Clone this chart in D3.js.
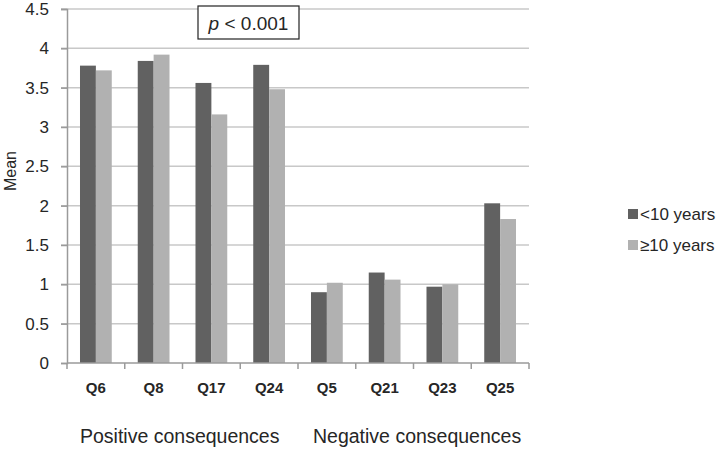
<!DOCTYPE html>
<html>
<head>
<meta charset="utf-8">
<script src="https://cdn.jsdelivr.net/npm/d3@7"></script>
<style>
  body { margin: 0; background: #fff; }
  text { font-family: "Liberation Sans", Arial, sans-serif; fill: #262626; }
</style>
</head>
<body>
<div id="chart"></div>
<script>
// data
const questions = ['Q6', 'Q8', 'Q17', 'Q24', 'Q5', 'Q21', 'Q23', 'Q25'];
const under10 = [3.78, 3.84, 3.56, 3.79, 0.90, 1.15, 0.97, 2.03];
const over10 = [3.72, 3.92, 3.16, 3.48, 1.02, 1.06, 1.00, 1.83];
const seriesNames = ['<10 years', '\u226510 years'];
const yTicks = [0, 0.5, 1, 1.5, 2, 2.5, 3, 3.5, 4, 4.5];
const groupLabels = ['Positive consequences', 'Negative consequences'];

const width = 727, height = 450;
const margin = {left: 67, top: 9, right: 198, bottom: 87};
const colors = ['#616161', '#b1b1b1'];

const svg = d3.select('#chart').append('svg')
    .attr('width', width)
    .attr('height', height);

const x = d3.scaleBand()
    .domain(questions)
    .range([margin.left, width - margin.right])
    .paddingInner(0.45)
    .paddingOuter(0.225);

const x1 = d3.scaleBand()
    .domain([0, 1])
    .range([0, x.bandwidth()]);

const y = d3.scaleLinear()
    .domain([0, 4.5])
    .range([height - margin.bottom, margin.top]);

// gridlines
svg.append('g')
    .selectAll('line')
    .data(yTicks.filter(d => d > 0))
    .enter().append('line')
    .attr('x1', margin.left - 6)
    .attr('x2', width - margin.right)
    .attr('y1', d => y(d))
    .attr('y2', d => y(d))
    .attr('stroke', '#c8c8c8')
    .attr('stroke-width', 1.5);

// y axis
const yAxis = svg.append('g')
    .attr('transform', `translate(${margin.left},0)`)
    .call(d3.axisLeft(y).tickValues(yTicks).tickSize(6).tickPadding(12).tickFormat(d => d));
yAxis.select('.domain').attr('stroke', '#9a9a9a').attr('stroke-width', 1.5);
yAxis.selectAll('.tick line').attr('stroke', '#9a9a9a').attr('stroke-width', 1.5);
yAxis.selectAll('.tick text')
    .style('font-family', '"Liberation Sans", Arial, sans-serif')
    .style('font-size', '17px')
    .attr('fill', '#262626');

// bars
const groups = svg.append('g')
    .selectAll('g')
    .data(questions)
    .enter().append('g')
    .attr('transform', d => `translate(${x(d)},0)`);

groups.selectAll('rect')
    .data((d, i) => [under10[i], over10[i]])
    .enter().append('rect')
    .attr('x', (d, j) => x1(j))
    .attr('width', x1.bandwidth())
    .attr('y', d => y(d))
    .attr('height', d => y(0) - y(d))
    .attr('fill', (d, j) => colors[j]);

// x axis with ticks between categories
const step = x.step();
const xAxis = svg.append('g');
xAxis.append('line')
    .attr('x1', margin.left)
    .attr('x2', width - margin.right)
    .attr('y1', y(0))
    .attr('y2', y(0))
    .attr('stroke', '#9a9a9a')
    .attr('stroke-width', 1.5);
xAxis.selectAll('.sep')
    .data(d3.range(questions.length + 1))
    .enter().append('line')
    .attr('class', 'sep')
    .attr('x1', i => margin.left + i * step)
    .attr('x2', i => margin.left + i * step)
    .attr('y1', y(0))
    .attr('y2', y(0) + 6)
    .attr('stroke', '#9a9a9a')
    .attr('stroke-width', 1.5);
xAxis.selectAll('.qlabel')
    .data(questions)
    .enter().append('text')
    .attr('class', 'qlabel')
    .attr('x', d => x(d) + x.bandwidth() / 2)
    .attr('y', y(0) + 30)
    .attr('text-anchor', 'middle')
    .style('font-size', '15px')
    .style('font-weight', 'bold')
    .text(d => d);

// group labels
svg.selectAll('.glabel')
    .data(groupLabels)
    .enter().append('text')
    .attr('class', 'glabel')
    .attr('x', (d, i) => i === 0 ? 80 : 313)
    .attr('y', 443)
    .attr('text-anchor', 'start')
    .style('font-size', '19.5px')
    .text(d => d);

// y axis title
svg.append('text')
    .attr('transform', 'rotate(-90)')
    .attr('x', -171)
    .attr('y', 16)
    .attr('text-anchor', 'middle')
    .style('font-size', '16px')
    .text('Mean');

// p value box
const pBox = svg.append('g').attr('transform', 'translate(198,6)');
pBox.append('rect')
    .attr('width', 101)
    .attr('height', 33)
    .attr('fill', '#fff')
    .attr('stroke', '#222')
    .attr('stroke-width', 1.2);
const pText = pBox.append('text')
    .attr('x', 50.5)
    .attr('y', 23.5)
    .attr('text-anchor', 'middle')
    .style('font-size', '19px');
pText.append('tspan').style('font-style', 'italic').text('p');
pText.append('tspan').text(' < 0.001');

// legend
const legend = svg.append('g').attr('transform', 'translate(633,214)');
seriesNames.forEach((name, i) => {
    const row = legend.append('g').attr('transform', `translate(0,${i * 31})`);
    row.append('rect')
        .attr('x', -5)
        .attr('y', -5)
        .attr('width', 10)
        .attr('height', 10)
        .attr('fill', colors[i]);
    row.append('text')
        .attr('x', 7)
        .attr('y', 6)
        .style('font-size', '17px')
        .text(name);
});
</script>
</body>
</html>
